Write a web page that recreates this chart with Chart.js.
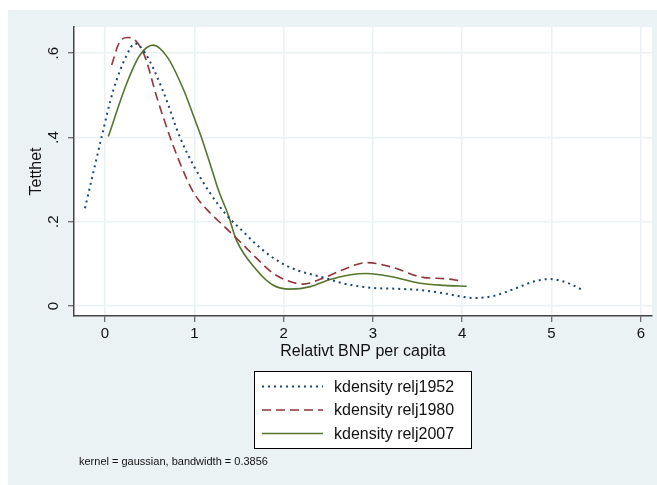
<!DOCTYPE html>
<html>
<head>
<meta charset="utf-8">
<script src="https://cdn.jsdelivr.net/npm/chart.js@4"></script>
<style>
  html, body { margin: 0; padding: 0; background: #fff; }
  #wrap { width: 657px; height: 485px; }
</style>
</head>
<body>
<div id="wrap"><canvas id="kdChart" width="657" height="485"></canvas></div>
<script>
// Tick values
const xTicks = [0, 1, 2, 3, 4, 5, 6];
const yTicks = [0, 0.2, 0.4, 0.6];
const yTickLabels = ['0', '.2', '.4', '.6'];

// kdensity relj1952
const x1952 = [-0.224, -0.1, -0.037, 0.093, 0.243, 0.336, 0.45, 0.65, 0.84, 1.0, 1.18, 1.36, 1.55, 1.70, 1.92, 2.15, 2.44, 2.7, 3.0, 3.25, 3.53, 3.8, 4.0, 4.12, 4.35, 4.6, 4.8, 4.98, 5.15, 5.35];
const y1952 = [0.232, 0.345, 0.402, 0.512, 0.595, 0.623, 0.6, 0.51, 0.40, 0.33, 0.267, 0.216, 0.176, 0.145, 0.109, 0.085, 0.068, 0.052, 0.043, 0.041, 0.038, 0.030, 0.022, 0.019, 0.024, 0.042, 0.058, 0.064, 0.057, 0.038];

// kdensity relj1980
const x1980 = [0.075, 0.16, 0.26, 0.354, 0.45, 0.578, 0.73, 0.84, 0.99, 1.18, 1.32, 1.51, 1.70, 1.88, 2.07, 2.22, 2.44, 2.65, 2.93, 3.2, 3.56, 3.8, 3.98];
const y1980 = [0.572, 0.625, 0.637, 0.627, 0.59, 0.497, 0.40, 0.339, 0.27, 0.22, 0.192, 0.153, 0.113, 0.078, 0.058, 0.052, 0.066, 0.085, 0.103, 0.093, 0.068, 0.065, 0.060];

// kdensity relj2007
const x2007 = [0.037, 0.243, 0.39, 0.54, 0.7, 0.88, 1.0, 1.08, 1.21, 1.27, 1.38, 1.47, 1.70, 1.88, 2.07, 2.30, 2.52, 2.75, 2.93, 3.2, 3.53, 3.8, 4.05];
const y2007 = [0.402, 0.528, 0.595, 0.619, 0.59, 0.513, 0.446, 0.40, 0.315, 0.275, 0.216, 0.157, 0.085, 0.05, 0.040, 0.046, 0.063, 0.074, 0.077, 0.07, 0.054, 0.049, 0.047];

const seriesNames = ['kdensity relj1952', 'kdensity relj1980', 'kdensity relj2007'];
const noteText = 'kernel = gaussian, bandwidth = 0.3856';

const BG = '#eaf2f3';
const AXIS = '#444';
const FONT = 'Arial, "Liberation Sans", sans-serif';

function pts(xs, ys) {
    return xs.map((x, i) => ({ x: x, y: ys[i] }));
}

const styles = [
    { color: '#1a476f', dash: [2, 4], width: 2 },
    { color: '#90353b', dash: [9, 5], width: 1.6 },
    { color: '#55752f', dash: [], width: 1.6 }
];

// Background, y tick labels, legend box and note
const decorPlugin = {
    id: 'decor',
    beforeDraw(chart) {
        const ctx = chart.ctx;
        const a = chart.chartArea;
        ctx.save();
        ctx.fillStyle = '#fff';
        ctx.fillRect(0, 0, chart.width, chart.height);
        ctx.fillStyle = BG;
        ctx.fillRect(8, 10, chart.width - 8, chart.height - 10);
        ctx.fillStyle = '#fff';
        ctx.fillRect(a.left, a.top, a.right - a.left, a.bottom - a.top);
        ctx.restore();
    },
    afterDraw(chart) {
        const ctx = chart.ctx;
        const yScale = chart.scales.y;
        ctx.save();
        // rotated y tick labels
        ctx.fillStyle = '#111';
        ctx.font = '15px ' + FONT;
        ctx.textAlign = 'center';
        ctx.textBaseline = 'middle';
        yTicks.forEach((v, i) => {
            const py = yScale.getPixelForValue(v);
            ctx.save();
            ctx.translate(54, py);
            ctx.rotate(-Math.PI / 2);
            ctx.fillText(yTickLabels[i], 0, 0);
            ctx.restore();
        });

        // legend
        const bx = 254, by = 371, bw = 217, bh = 77;
        ctx.fillStyle = '#fff';
        ctx.fillRect(bx, by, bw, bh);
        ctx.strokeStyle = '#000';
        ctx.lineWidth = 1;
        ctx.strokeRect(bx + 0.5, by + 0.5, bw, bh);
        const rows = [386.5, 410, 433.5];
        ctx.font = '16px ' + FONT;
        ctx.textAlign = 'left';
        rows.forEach((ry, i) => {
            const s = styles[i];
            ctx.strokeStyle = s.color;
            ctx.lineWidth = s.width;
            ctx.setLineDash(s.dash);
            ctx.beginPath();
            ctx.moveTo(262, ry);
            ctx.lineTo(323, ry);
            ctx.stroke();
            ctx.setLineDash([]);
            ctx.fillStyle = '#111';
            ctx.fillText(seriesNames[i], 334, ry + 1);
        });

        // note
        ctx.font = '11px ' + FONT;
        ctx.fillStyle = '#111';
        ctx.fillText(noteText, 79, 462);
        ctx.restore();
    }
};

const datasets = [pts(x1952, y1952), pts(x1980, y1980), pts(x2007, y2007)].map((d, i) => ({
    label: seriesNames[i],
    data: d,
    showLine: true,
    borderColor: styles[i].color,
    borderWidth: styles[i].width,
    borderDash: styles[i].dash,
    pointRadius: 0,
    cubicInterpolationMode: 'monotone',
    fill: false
}));

new Chart(document.getElementById('kdChart'), {
    type: 'scatter',
    data: { datasets: datasets },
    options: {
        responsive: false,
        animation: false,
        devicePixelRatio: 1,
        layout: { padding: { left: 0, right: 5, top: 27, bottom: 119 } },
        plugins: {
            legend: { display: false },
            tooltip: { enabled: false }
        },
        scales: {
            x: {
                type: 'linear',
                min: -0.347,
                max: 6.125,
                afterBuildTicks: s => { s.ticks = xTicks.map(v => ({ value: v })); },
                afterFit: s => { s.height = 50; },
                grid: { color: BG, lineWidth: 1.5, tickColor: AXIS, tickLength: 6, tickWidth: 1 },
                border: { color: AXIS, width: 1.5 },
                ticks: { color: '#111', font: { family: FONT, size: 15 }, padding: 3, maxRotation: 0 },
                title: { display: true, text: 'Relativt BNP per capita', color: '#111', font: { family: FONT, size: 16 }, padding: { top: 0, bottom: 5 } }
            },
            y: {
                type: 'linear',
                min: -0.0237,
                max: 0.662,
                afterBuildTicks: s => { s.ticks = yTicks.map(v => ({ value: v })); },
                afterFit: s => { s.width = 74; },
                grid: { color: BG, lineWidth: 1.5, tickColor: AXIS, tickLength: 6, tickWidth: 1 },
                border: { color: AXIS, width: 1.5 },
                ticks: { display: false },
                title: { display: true, text: 'Tetthet', color: '#111', font: { family: FONT, size: 16 }, padding: { top: 27, bottom: 0 } }
            }
        }
    },
    plugins: [decorPlugin]
});
</script>
</body>
</html>
